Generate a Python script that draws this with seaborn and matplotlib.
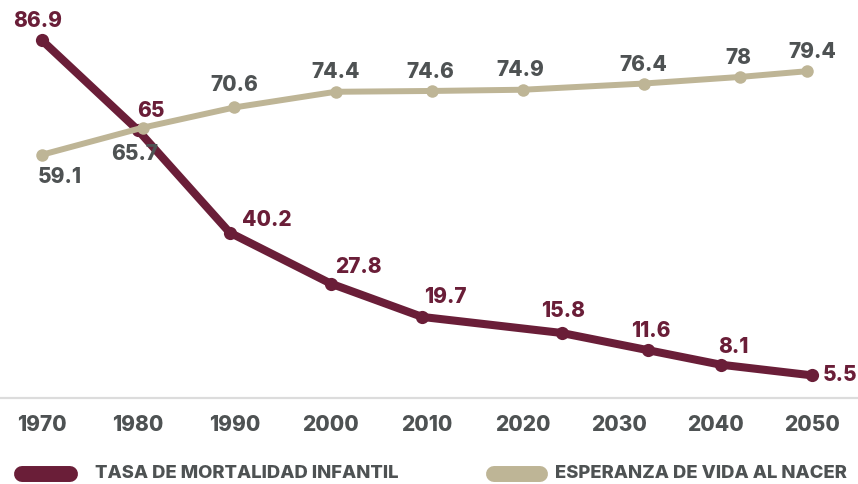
import matplotlib
matplotlib.use("Agg")
import matplotlib.pyplot as plt
import seaborn as sns
import pandas as pd
from matplotlib.lines import Line2D

# ---- data ----
tick_years = [1970, 1980, 1990, 2000, 2010, 2020, 2030, 2040, 2050]
tick_labels = ["1970", "1980", "1990", "2000", "2010", "2020", "2030", "2040", "2050"]

mort_years = [1970, 1980, 1989.5, 2000, 2009.5, 2024, 2033, 2040.5, 2050]
mort_values = [86.9, 65, 40.2, 27.8, 19.7, 15.8, 11.6, 8.1, 5.5]
mort_labels = ["86.9", "65", "40.2", "27.8", "19.7", "15.8", "11.6", "8.1", "5.5"]

life_years = [1970, 1980.5, 1990, 2000.5, 2010.5, 2020, 2032.5, 2042.5, 2049.5]
life_values = [59.1, 65.7, 70.6, 74.4, 74.6, 74.9, 76.4, 78, 79.4]
life_labels = ["59.1", "65.7", "70.6", "74.4", "74.6", "74.9", "76.4", "78", "79.4"]

series_names = ["TASA DE MORTALIDAD INFANTIL", "ESPERANZA DE VIDA AL NACER"]

# ---- styles ----
MAROON = "#6A1E38"
BEIGE = "#BEB596"
GRAY = "#4E5253"
FONT = ["Inter", "DejaVu Sans"]
W = 800

sns.set_theme(style="white")
plt.rcParams["font.family"] = FONT

mort_df = pd.DataFrame({"year": mort_years, "value": mort_values})
life_df = pd.DataFrame({"year": life_years, "value": life_values})

fig = plt.figure(figsize=(8.58, 4.84), dpi=100)
ax = fig.add_axes([0, 1 - 398 / 484, 1, 398 / 484])

sns.lineplot(data=mort_df, x="year", y="value", ax=ax, color=MAROON,
             linewidth=5.8, marker="o", markersize=9.5, markeredgewidth=0,
             solid_capstyle="round", zorder=3)
sns.lineplot(data=life_df, x="year", y="value", ax=ax, color=BEIGE,
             linewidth=4.3, marker="o", markersize=9, markeredgewidth=0,
             solid_capstyle="round", zorder=4)

# label offsets (points)
mort_off = [(-3, 14), (9, 14), (27, 9), (20, 12), (17, 14), (1, 16), (2, 14), (9, 13), (20.5, 0)]
life_off = [(13, -16), (-6, -19), (0, 16), (0, 14), (-1, 14), (-2, 14), (0, 13), (-1, 14), (4, 14)]

for x, y, t, o in zip(mort_years, mort_values, mort_labels, mort_off):
    ax.annotate(t, (x, y), xytext=o, textcoords="offset points", ha="center",
                va="center", color=MAROON, fontsize=15, fontweight=W,
                zorder=6, annotation_clip=False)
for x, y, t, o in zip(life_years, life_values, life_labels, life_off):
    ax.annotate(t, (x, y), xytext=o, textcoords="offset points", ha="center",
                va="center", color=GRAY, fontsize=15, fontweight=W,
                zorder=6, annotation_clip=False)

ax.set_xlim(1965.64, 2054.78)
ax.set_ylim(0, 96.7)
ax.set_xticks(tick_years)
ax.set_xticklabels(tick_labels, fontsize=15, fontweight=W, color=GRAY)
ax.set_yticks([])
ax.set_xlabel("")
ax.set_ylabel("")
ax.tick_params(axis="x", length=0, pad=12.5)
for s in ["top", "right", "left"]:
    ax.spines[s].set_visible(False)
ax.spines["bottom"].set_color("#DCDCDC")
ax.spines["bottom"].set_linewidth(1.6)
ax.patch.set_alpha(0)

# legend drawn as pills + text
ly = 1 - 474 / 484
for (x0, x1, tx), col, name in zip([(22 / 858, 70 / 858, 95 / 858), (494 / 858, 540 / 858, 555 / 858)],
                                   [MAROON, BEIGE], series_names):
    fig.add_artist(Line2D([x0, x1], [ly, ly], transform=fig.transFigure, color=col,
                          linewidth=11.5, solid_capstyle="round"))
    fig.text(tx, ly, name, ha="left", va="center", fontsize=13.3, fontweight=W,
             color=GRAY)

fig.savefig("out.png", dpi=100)
